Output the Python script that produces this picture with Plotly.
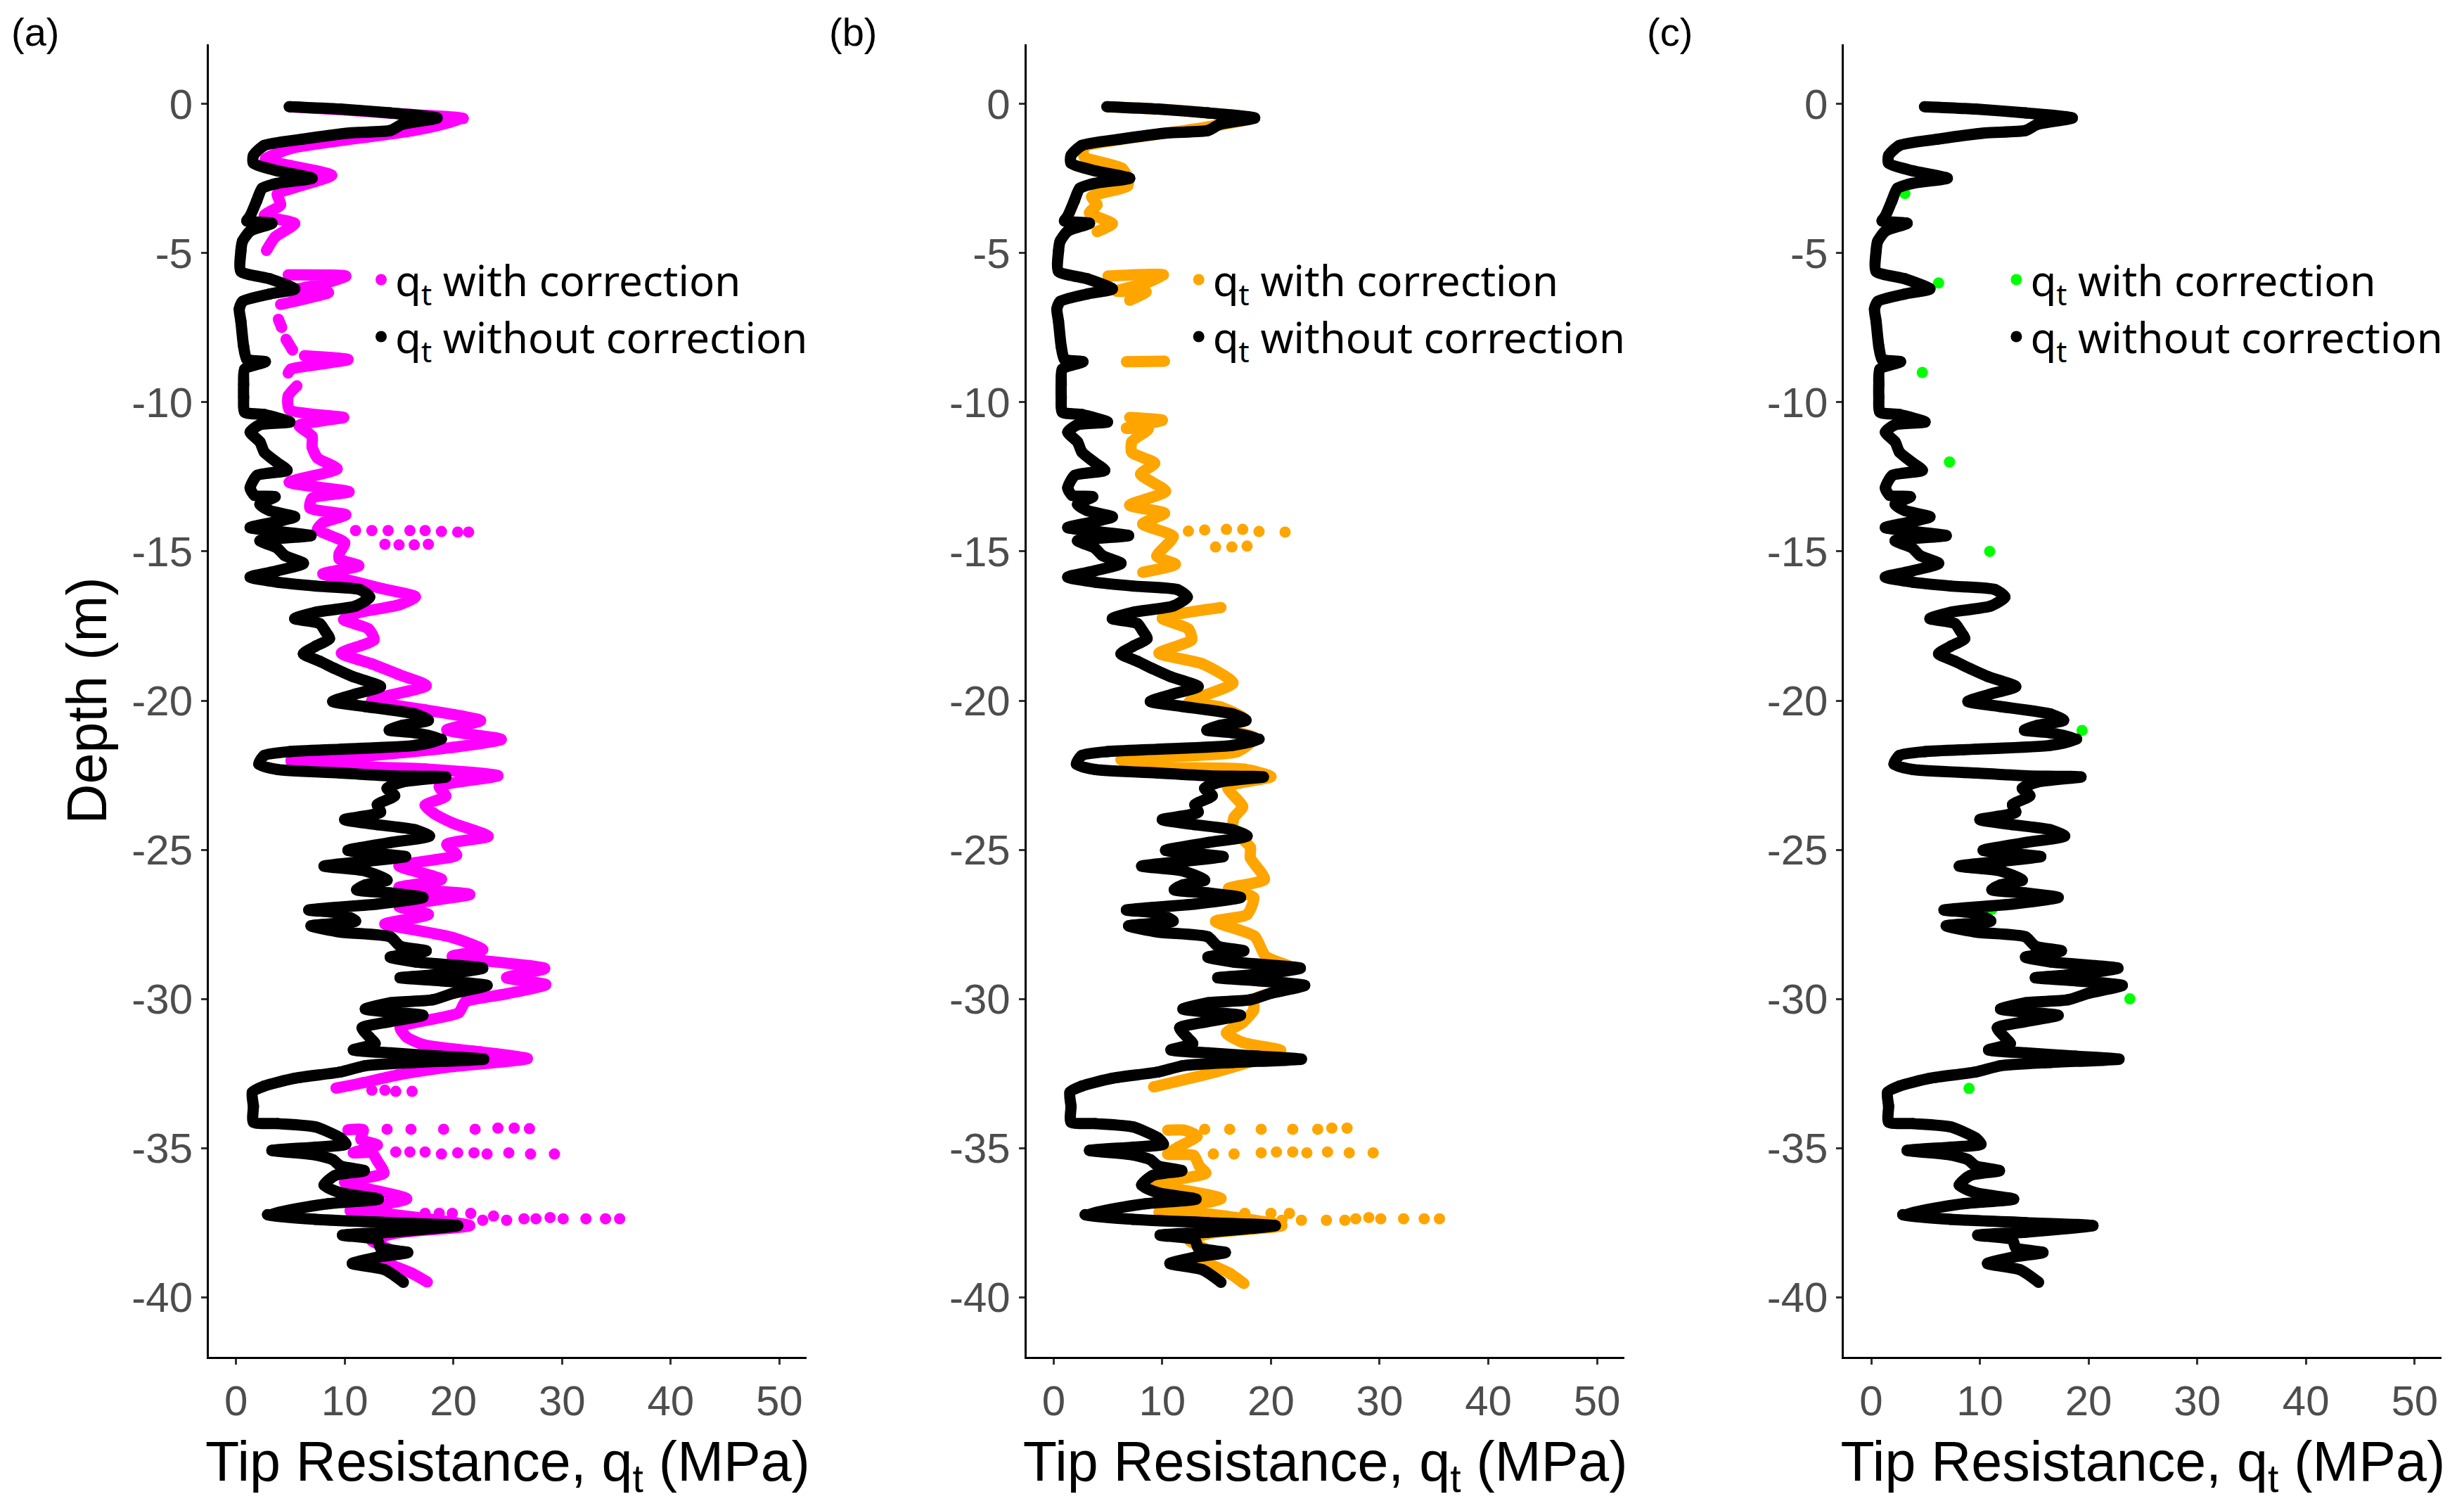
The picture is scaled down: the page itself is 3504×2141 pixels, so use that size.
import plotly.graph_objects as go

# ---- data (depth in m, tip resistance in MPa) ----
# q_t without correction (same profile in all three panels)
raw_q = [4.9, 9.6, 14.2, 18.5, 15.3, 14.2, 10.5, 6.1, 2.6, 1.6, 1.6, 3.8, 7.0, 3.8, 2.4, 1.9, 1.3, 1.0,
         3.3, 1.3, 0.6, 0.45, 0.45, 3.1, 5.4, 3.1, 0.6, 0.3, 0.45, 0.7, 1.0, 2.7, 0.8, 0.7, 0.7, 0.8,
         2.6, 4.95, 2.2, 1.3, 2.2, 2.6, 3.7, 4.7, 1.95, 1.3, 1.7, 3.6, 2.2, 3.1, 5.4, 3.8, 1.3, 6.9,
         2.2, 3.8, 4.5, 6.2, 3.8, 1.3, 3.8, 7.3, 11.4, 12.3, 11.0, 7.3, 5.4, 7.7, 8.2, 8.6, 7.3, 6.2,
         7.7, 9.1, 10.7, 13.3, 11.0, 8.9, 11.9, 16.5, 17.7, 15.3, 14.1, 16.5, 18.9, 16.5, 9.6, 4.95,
         2.6, 2.1, 3.8, 9.6, 14.2, 19.3, 15.3, 13.9, 14.6, 13.0, 13.3, 10.0, 13.0, 16.5, 17.8, 14.2,
         10.3, 13.0, 15.6, 11.9, 8.1, 11.9, 13.9, 11.9, 11.1, 14.2, 17.2, 13.0, 6.7, 9.6, 11.0, 6.9,
         9.6, 14.2, 15.1, 17.5, 14.2, 16.5, 22.7, 18.8, 15.1, 18.8, 23.1, 20.0, 18.1, 14.2, 11.9, 14.2,
         17.2, 14.2, 11.6, 12.3, 12.8, 10.8, 14.2, 18.8, 22.8, 16.5, 11.9, 9.6, 5.4, 2.6, 1.5, 1.6,
         1.6, 3.8, 7.3, 9.6, 10.1, 7.3, 3.3, 7.3, 8.9, 9.6, 11.8, 9.1, 8.1, 9.6, 13.1, 8.4, 2.9, 7.3,
         14.2, 20.4, 14.2, 9.8, 13.0, 13.3, 15.8, 13.0, 10.7, 13.7, 15.4]
raw_d = [-0.09, -0.17, -0.3, -0.47, -0.68, -0.89, -0.97, -1.18, -1.39, -1.73, -1.98, -2.24, -2.49,
         -2.66, -2.83, -3.25, -3.76, -3.92, -4.0, -4.26, -4.6, -4.93, -5.61, -5.86, -6.2, -6.37, -6.62,
         -6.87, -7.29, -8.13, -8.56, -8.64, -8.89, -9.4, -9.82, -10.33, -10.41, -10.66, -10.75, -11.0,
         -11.33, -11.67, -12.0, -12.28, -12.45, -12.87, -13.12, -13.17, -13.42, -13.63, -13.84, -14.0,
         -14.2, -14.47, -14.64, -14.89, -15.14, -15.4, -15.65, -15.86, -16.03, -16.16, -16.28, -16.53,
         -16.83, -17.04, -17.25, -17.42, -17.67, -17.92, -18.18, -18.43, -18.68, -18.93, -19.19, -19.53,
         -19.78, -20.03, -20.2, -20.45, -20.66, -20.83, -20.99, -21.08, -21.29, -21.5, -21.63, -21.71,
         -21.84, -22.13, -22.31, -22.43, -22.52, -22.56, -22.73, -22.94, -23.19, -23.49, -23.74, -23.99,
         -24.16, -24.33, -24.54, -24.76, -25.02, -25.13, -25.23, -25.39, -25.55, -25.71, -26.02, -26.18,
         -26.34, -26.45, -26.6, -26.82, -27.02, -27.13, -27.39, -27.55, -27.76, -27.92, -28.23, -28.39,
         -28.6, -28.76, -28.97, -29.18, -29.29, -29.39, -29.55, -29.81, -30.03, -30.13, -30.34, -30.44,
         -30.55, -30.76, -30.97, -31.29, -31.5, -31.71, -31.81, -31.92, -32.02, -32.13, -32.24, -32.45,
         -32.66, -32.92, -33.13, -33.6, -34.13, -34.18, -34.29, -34.66, -34.87, -34.97, -35.08, -35.23,
         -35.39, -35.6, -35.76, -35.92, -36.24, -36.5, -36.71, -36.87, -37.23, -37.39, -37.5, -37.6,
         -37.82, -37.92, -38.08, -38.34, -38.5, -38.66, -38.87, -39.08, -39.5]

# panel (a): corrected q_t, continuous stretches (None = gap in the record)
corr_a_q = [4.9, 10.0, 15.0, 20.9, 16.2, 10.0, 5.06, 2.7, 5.06, 8.8, 5.06, 3.8, 4.1, 2.6, 5.4, 3.6, 2.8, None,
            4.8, 10.1, 8.3, 5.06, 8.5, 4.1, None,
            3.9, 4.2, None, 4.6, 5.2, None,
            6.3, 10.3, 5.06, 4.8, None,
            5.6, 4.8, 4.9, 9.9, 8.3, 5.8, 7.0, 7.0, 7.5, 9.3, 4.9, 10.4, 7.0, 6.8, 10.1, 8.0, 7.5, 10.0,
            9.5, 9.5, 11.3, 8.0, 10.0, 13.5, 16.5, 15.0, 11.2, 9.9, 12.2, 12.7, 9.7, 12.5, 15.0, 17.5,
            12.5, 17.4, 22.5, 19.4, 24.4, 19.9, 12.5, 5.06, 10.0, 17.4, 24.1, 18.7, 19.3, 17.4, 18.2,
            19.9, 23.2, 19.4, 20.3, 15.0, 18.9, 15.0, 21.5, 15.0, 17.7, 13.7, 16.2, 19.9, 22.7, 19.9,
            28.4, 24.9, 28.5, 24.9, 21.1, 20.5, 15.1, 15.7, 17.4, 22.4, 26.8, 19.9, 15.0, 11.7, 9.2, None,
            10.3, 11.7, 11.5, 13.0, 10.8, 12.5, 13.0, 13.6, 10.0, 15.7, 10.5, 14.2, 21.5, 14.8, 12.5,
            14.6, 13.5, 14.5, 16.2, 17.6]
corr_a_d = [-0.09, -0.2, -0.33, -0.49, -0.9, -1.21, -1.49, -1.85, -2.07, -2.39, -2.84, -3.02, -3.38, -3.74,
            -4.01, -4.46, -4.91, None,
            -5.73, -5.77, -6.0, -6.27, -6.32, -6.72, None,
            -7.22, -7.49, None, -7.89, -8.25, None,
            -8.44, -8.57, -8.89, -9.02, None,
            -9.45, -9.79, -10.24, -10.51, -10.6, -10.78, -11.14, -11.5, -11.87, -12.23, -12.68, -13.0,
            -13.22, -13.54, -13.77, -14.04, -14.26, -14.71, -15.07, -15.25, -15.48, -15.75, -15.93,
            -16.25, -16.52, -16.79, -17.06, -17.28, -17.6, -17.96, -18.41, -18.77, -19.13, -19.5, -19.99,
            -20.31, -20.67, -20.98, -21.3, -21.57, -21.84, -22.02, -22.2, -22.29, -22.52, -22.88, -23.2,
            -23.51, -23.78, -24.1, -24.55, -24.82, -25.18, -25.54, -25.99, -26.26, -26.5, -26.9, -27.17,
            -27.49, -27.67, -27.94, -28.35, -28.57, -28.98, -29.29, -29.52, -29.83, -30.1, -30.46, -30.95,
            -31.28, -31.55, -31.77, -32.0, -32.27, -32.54, -32.81, -32.99, None,
            -34.39, -34.39, -34.71, -34.9, -35.16, -35.16, -35.43, -35.84, -36.15, -36.7, -37.1, -37.22,
            -37.6, -37.85, -38.1, -38.5, -38.8, -38.95, -39.2, -39.49]
# panel (a): isolated corrected readings
dots_a_q = [11.0, 12.5, 14.0, 16.0, 17.4, 18.9, 20.4, 21.4, 13.7, 15.0, 16.4, 17.7,
            12.5, 13.7, 14.7, 16.2,
            13.9, 16.1, 19.1, 22.0, 24.1, 25.6, 27.0,
            14.7, 16.0, 17.4, 18.9, 20.4, 21.9, 23.1, 25.1, 27.1, 29.3,
            17.4, 18.7, 19.9, 21.6, 22.7, 23.7, 24.9, 26.5, 27.6, 28.9, 30.1, 32.2, 34.0, 35.3]
dots_a_d = [-14.3, -14.3, -14.3, -14.3, -14.3, -14.33, -14.35, -14.35, -14.76, -14.78, -14.78, -14.76,
            -33.06, -33.06, -33.1, -33.1,
            -34.37, -34.37, -34.37, -34.37, -34.33, -34.33, -34.35,
            -35.13, -35.13, -35.13, -35.2, -35.16, -35.16, -35.2, -35.16, -35.2, -35.2,
            -37.19, -37.19, -37.19, -37.19, -37.42, -37.28, -37.42, -37.37, -37.37, -37.33, -37.37,
            -37.37, -37.37, -37.37]

# panel (b): corrected q_t, continuous stretches
corr_b_q = [4.9, 9.6, 14.2, 18.3, 14.5, 10.5, 6.0, 2.8, 2.8, 6.3, 6.9, 6.8, 3.5, 4.0, 3.3, 5.4, 4.0, None,
            5.0, 10.1, 8.5, 5.8, 8.5, 7.0, None,
            6.7, 10.2, None,
            7.0, 10.0, 6.7, 8.7, 7.2, 7.2, 9.3, 8.0, 10.3, 7.0, 10.2, 8.2, 11.0, 9.5, 11.2, 8.2, None,
            15.4, 10.0, 12.4, 12.7, 9.7, 13.7, 16.5, 12.5, 15.4, 17.5, 15.5, 18.5, 16.9, 6.2, 8.0, 17.6,
            20.0, 16.0, 17.4, 16.6, 16.5, 18.1, 18.1, 19.4, 16.1, 18.4, 17.8, 14.9, 18.5, 19.5, 22.0,
            18.0, 22.5, 18.5, 18.4, 17.4, 15.9, 17.4, 20.9, 19.0, 14.9, 9.2, None,
            10.5, 12.0, 13.2, 11.4, 10.5, 12.9, 13.4, 14.0, 9.5, 15.4, 9.7, 14.4, 21.0, 14.5, 12.5, 14.5,
            13.5, 14.7, 16.2, 17.5]
corr_b_d = [-0.09, -0.17, -0.3, -0.47, -0.75, -0.97, -1.2, -1.45, -1.76, -2.16, -2.55, -2.75, -3.11, -3.38,
            -3.65, -4.01, -4.28, None,
            -5.77, -5.73, -6.0, -6.27, -6.3, -6.58, None,
            -8.64, -8.62, None,
            -10.51, -10.6, -10.87, -10.9, -11.32, -11.68, -12.04, -12.41, -12.98, -13.45, -13.72, -14.08,
            -14.5, -15.16, -15.43, -15.7, None,
            -16.88, -17.24, -17.6, -17.96, -18.41, -18.77, -19.41, -20.04, -20.22, -20.6, -20.9, -21.25,
            -21.71, -21.98, -22.2, -22.3, -22.55, -22.9, -23.56, -23.92, -24.3, -24.92, -25.27, -25.99,
            -26.3, -26.6, -27.17, -27.4, -27.9, -28.57, -28.97, -29.3, -29.55, -30.0, -30.38, -30.79,
            -31.14, -31.46, -31.73, -32.0, -32.45, -32.95, None,
            -34.4, -34.4, -34.6, -34.98, -35.2, -35.25, -35.6, -35.84, -36.2, -36.69, -37.15, -37.22,
            -37.6, -37.85, -38.1, -38.5, -38.8, -38.95, -39.2, -39.54]
# panel (b): isolated corrected readings
dots_b_q = [12.4, 13.9, 15.9, 17.4, 18.9, 21.3, 14.9, 16.4, 17.8,
            13.9, 16.2, 19.1, 22.0, 24.3, 25.6, 27.0,
            14.7, 16.6, 19.1, 20.5, 22.0, 23.3, 25.2, 27.2, 29.4,
            17.6, 20.0, 21.7, 21.0, 22.8, 25.1, 26.8, 27.8, 29.0, 30.1, 32.2, 34.1, 35.5]
dots_b_d = [-14.32, -14.28, -14.26, -14.26, -14.33, -14.35, -14.85, -14.85, -14.82,
            -34.37, -34.37, -34.37, -34.37, -34.37, -34.33, -34.33,
            -35.2, -35.2, -35.16, -35.13, -35.13, -35.16, -35.13, -35.16, -35.16,
            -37.19, -37.19, -37.19, -37.42, -37.42, -37.42, -37.42, -37.37, -37.33, -37.37, -37.37,
            -37.37, -37.37]

# panel (c): corrected q_t at selected depths
corr_c_q = [3.1, 6.2, 4.7, 7.2, 10.9, 19.4, 11.1, 23.8, 9.0]
corr_c_d = [-3.0, -6.0, -9.0, -12.0, -15.0, -21.0, -27.0, -30.0, -33.0]

x_ticks = [0, 10, 20, 30, 40, 50]
y_ticks = [0, -5, -10, -15, -20, -25, -30, -35, -40]
y_tick_text = ["0", "-5", "-10", "-15", "-20", "-25", "-30", "-35", "-40"]
panel_tags = ["(a)", "(b)", "(c)"]

# ---- styling ----
W, H = 3504, 2141
DOT = 16
TICK_FONT = dict(family="Liberation Sans, Arial", size=60, color="#4D4D4D")
TITLE_FONT = dict(family="Liberation Sans, Arial", size=79, color="black")
LEG_FONT = dict(family="Noto Sans, Open Sans", size=60, color="black")


def px_x(p):
    return p / W


def px_y(p):
    return 1 - p / H


panel_left = [297.0, 1459.7, 2622.4]
panel_width = 850.0
y_dom = [px_y(1929), px_y(63)]

fig = go.Figure()


def add_profile(n, color, cq, cd, dq=None, dd=None):
    leg = "legend" if n == 1 else "legend%d" % n
    xa = "x" if n == 1 else "x%d" % n
    ya = "y" if n == 1 else "y%d" % n
    if dq is None:
        # only isolated readings
        fig.add_trace(go.Scatter(x=cq, y=cd, mode="markers", marker=dict(color=color, size=DOT),
                                 name="q<sub>t</sub> with correction", legend=leg, xaxis=xa, yaxis=ya))
    else:
        fig.add_trace(go.Scatter(x=cq, y=cd, mode="lines+markers", connectgaps=False,
                                 line=dict(color=color, width=DOT, shape="spline", smoothing=0.6),
                                 marker=dict(color=color, size=DOT),
                                 showlegend=False, xaxis=xa, yaxis=ya, hoverinfo="skip"))
        fig.add_trace(go.Scatter(x=dq, y=dd, mode="markers", marker=dict(color=color, size=DOT),
                                 name="q<sub>t</sub> with correction", legend=leg, xaxis=xa, yaxis=ya))
    fig.add_trace(go.Scatter(x=raw_q, y=raw_d, mode="lines",
                             line=dict(color="black", width=DOT, shape="spline", smoothing=0.6),
                             showlegend=False, xaxis=xa, yaxis=ya, hoverinfo="skip"))
    fig.add_trace(go.Scatter(x=raw_q, y=raw_d, mode="markers", marker=dict(color="black", size=DOT),
                             name="q<sub>t</sub> without correction", legend=leg, xaxis=xa, yaxis=ya))


add_profile(1, "#FF00FF", corr_a_q, corr_a_d, dots_a_q, dots_a_d)
add_profile(2, "#FFA500", corr_b_q, corr_b_d, dots_b_q, dots_b_d)
add_profile(3, "#00FF00", corr_c_q, corr_c_d)

layout = dict(
    width=W, height=H,
    margin=dict(l=0, r=0, t=0, b=0),
    paper_bgcolor="white", plot_bgcolor="white",
    showlegend=True,
)
axis_common = dict(showline=True, linecolor="black", linewidth=3, ticks="outside", ticklen=8,
                   tickwidth=3, tickcolor="#333333", showgrid=False, zeroline=False,
                   tickfont=TICK_FONT)
annotations = []
for i in range(3):
    sfx = "" if i == 0 else str(i + 1)
    left = panel_left[i]
    layout["xaxis" + sfx] = dict(axis_common, domain=[px_x(left), px_x(left + panel_width)],
                                 range=[-2.5, 52.5], tickvals=x_ticks, anchor="y" + sfx,
                                 title=dict(text="Tip Resistance, q<sub>t</sub> (MPa)", font=TITLE_FONT,
                                            standoff=26))
    ydict = dict(axis_common, domain=y_dom, range=[-42, 2], tickvals=y_ticks, ticktext=y_tick_text,
                 anchor="x" + sfx)
    if i == 0:
        ydict["title"] = dict(text="Depth (m)", font=TITLE_FONT, standoff=10)
    layout["yaxis" + sfx] = ydict
    layout["legend" + sfx] = dict(x=px_x(522 + i * 1162.7), y=px_y(352), xanchor="left", yanchor="top",
                                  font=LEG_FONT, bgcolor="rgba(0,0,0,0)", traceorder="normal",
                                  itemsizing="trace", tracegroupgap=0)
    annotations.append(dict(text=panel_tags[i], x=px_x(14 + i * 1163), y=px_y(46), xref="paper",
                            yref="paper", xanchor="left", yanchor="middle", showarrow=False,
                            font=dict(family="Liberation Sans, Arial", size=56, color="black")))
layout["annotations"] = annotations

fig.update_layout(**layout)
fig.write_html("out.html", config={"displayModeBar": False},
               post_script="document.body.style.margin='0px';")
